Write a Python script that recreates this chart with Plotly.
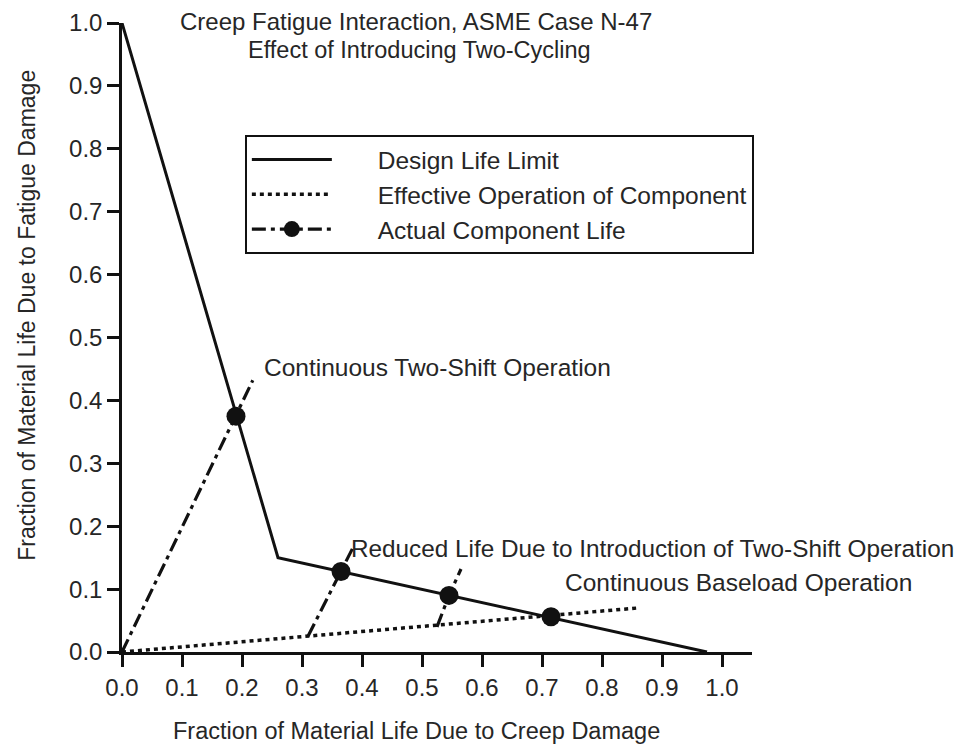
import plotly.graph_objects as go

# ---- data ----
design_x = [0.0, 0.26, 0.975]
design_y = [1.0, 0.15, 0.0]

effective_x = [0.0, 0.86]
effective_y = [0.0, 0.07]

# actual component life lines (three separate paths)
actual1_x = [0.0, 0.19, 0.218]
actual1_y = [0.0, 0.375, 0.432]
actual2_x = [0.31, 0.365, 0.385]
actual2_y = [0.025, 0.128, 0.166]
actual3_x = [0.525, 0.545, 0.565]
actual3_y = [0.04, 0.09, 0.132]

dot_x = [0.19, 0.365, 0.545, 0.715]
dot_y = [0.375, 0.128, 0.09, 0.056]

x_ticks = [0.0, 0.1, 0.2, 0.3, 0.4, 0.5, 0.6, 0.7, 0.8, 0.9, 1.0]
y_ticks = [0.0, 0.1, 0.2, 0.3, 0.4, 0.5, 0.6, 0.7, 0.8, 0.9, 1.0]

FONT = "Liberation Sans, Arial, Helvetica, sans-serif"
TXT = "#262626"
LINE = "#111111"
FS = 24
PAD = "&nbsp;" * 6

fig = go.Figure()

fig.add_trace(go.Scatter(x=design_x, y=design_y, mode="lines", name=PAD + "Design Life Limit",
                         line=dict(color=LINE, width=3), legendgroup="a", cliponaxis=False))
fig.add_trace(go.Scatter(x=effective_x, y=effective_y, mode="lines",
                         name=PAD + "Effective Operation of Component",
                         line=dict(color=LINE, width=3.5, dash="4px,4px"), legendgroup="b",
                         cliponaxis=False))
for ax_, ay_ in [(actual1_x, actual1_y), (actual2_x, actual2_y), (actual3_x, actual3_y)]:
    fig.add_trace(go.Scatter(x=ax_, y=ay_, mode="lines", showlegend=False,
                             line=dict(color=LINE, width=3.2, dash="14px,5px,4px,5px"),
                             cliponaxis=False))
fig.add_trace(go.Scatter(x=dot_x, y=dot_y, mode="markers", showlegend=False,
                         marker=dict(color=LINE, size=19), cliponaxis=False))
# legend entry for actual component life
fig.add_trace(go.Scatter(x=[None], y=[None], mode="lines+markers",
                         name=PAD + "Actual Component Life",
                         line=dict(color=LINE, width=3.2, dash="14px,5px,4px,5px"),
                         marker=dict(color=LINE, size=17), legendgroup="c"))

annots = [
    dict(x=0.49, y=1.003, yref="paper", text="Creep Fatigue Interaction, ASME Case N-47",
         size=FS, xanchor="center"),
    dict(x=0.495, y=0.957, yref="paper", text="Effect of Introducing Two-Cycling",
         size=FS - 0.5, xanchor="center"),
    dict(x=0.233, y=0.452, yref="y", text="Continuous Two-Shift Operation",
         size=FS + 0.5, xanchor="left"),
    dict(x=0.378, y=0.164, yref="y", text="Reduced Life Due to Introduction of Two-Shift Operation",
         size=FS + 0.3, xanchor="left"),
    dict(x=0.735, y=0.110, yref="y", text="Continuous Baseload Operation",
         size=FS + 0.5, xanchor="left"),
    dict(x=0.49, y=-0.126, yref="paper", text="Fraction of Material Life Due to Creep Damage",
         size=FS - 0.5, xanchor="center"),
]
for a in annots:
    size = a.pop("size")
    fig.add_annotation(xref="x", showarrow=False, yanchor="middle",
                       font=dict(family=FONT, size=size, color=TXT), **a)

fig.add_annotation(x=-0.151, xref="paper", y=0.536, yref="paper", textangle=-90,
                   text="Fraction of Material Life Due to Fatigue Damage", showarrow=False,
                   font=dict(family=FONT, size=FS - 1, color=TXT),
                   xanchor="center", yanchor="middle")

# the page body adds an 8px margin on the top and left
fig.update_layout(
    width=957, height=737,
    margin=dict(l=114, r=213, t=15, b=93),
    paper_bgcolor="white", plot_bgcolor="white",
    font=dict(family=FONT, color=TXT, size=FS),
    legend=dict(x=0.195, y=0.822, xanchor="left", yanchor="top",
                bordercolor=LINE, borderwidth=2, bgcolor="white",
                font=dict(family=FONT, size=FS + 0.5, color=TXT),
                itemwidth=80, tracegroupgap=4, traceorder="normal"),
    xaxis=dict(range=[0, 1.05], tickvals=x_ticks, tickformat=".1f", automargin=False,
               showgrid=False, zeroline=False, showline=True, linecolor=LINE, linewidth=2.5,
               ticks="outside", ticklen=12, tickwidth=2.5, tickcolor=LINE,
               tickfont=dict(family=FONT, size=FS, color=TXT)),
    yaxis=dict(range=[0, 1.0], tickvals=y_ticks, tickformat=".1f", automargin=False,
               showgrid=False, zeroline=False, showline=True, linecolor=LINE, linewidth=2.5,
               ticks="outside", ticklen=12, tickwidth=2.5, tickcolor=LINE,
               tickfont=dict(family=FONT, size=FS, color=TXT)),
)

fig.write_html("out.html")
